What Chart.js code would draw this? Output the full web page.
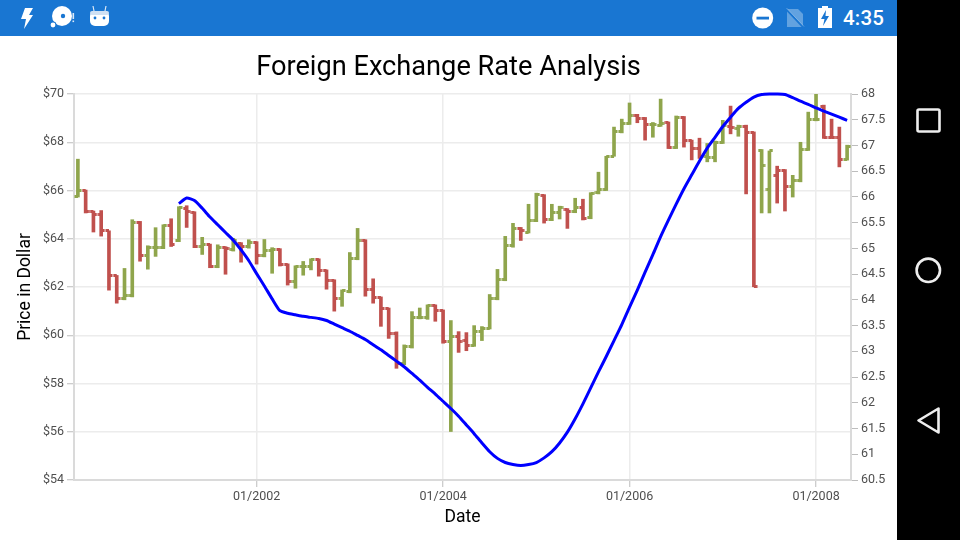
<!DOCTYPE html>
<html>
<head>
<meta charset="utf-8">
<title>Foreign Exchange Rate Analysis</title>
<script src="https://cdn.jsdelivr.net/npm/chart.js@4"></script>
<style>
  html, body { margin: 0; padding: 0; width: 960px; height: 540px; overflow: hidden; background: #000; font-family: Roboto, sans-serif; }
  #status { position: absolute; left: 0; top: 0; width: 897px; height: 36px; background: #1976D2; }
  #clock { position: absolute; left: 843px; top: 6px; color: #fff; font-size: 20.5px; font-weight: 500; line-height: 24px; letter-spacing: 0.2px; }
  #page { position: absolute; left: 0; top: 36px; width: 897px; height: 504px; background: #fff; }
  svg { position: absolute; left: 0; top: 0; }
</style>
</head>
<body>
<div id="status">
  <svg width="897" height="36">
    <polygon points="25,8 33,8 29,15 33,15 24,29 26,19 21,19" fill="#fff"/>
    <circle cx="62" cy="16" r="10" fill="#fff"/><circle cx="63" cy="16" r="2.2" fill="#1976D2"/>
    <circle cx="53" cy="25" r="3.4" fill="#1976D2"/><circle cx="53" cy="25" r="2.4" fill="#fff"/>
    <rect x="72.5" y="13" width="1.6" height="6" fill="#dce9f7"/><rect x="72.5" y="20.5" width="1.6" height="1.6" fill="#dce9f7"/>
    <rect x="90" y="11" width="19" height="15" rx="5" fill="#fff"/>
    <path d="M94 11 L93 6 M105 11 L106 6" stroke="#dce9f7" stroke-width="1.2"/>
    <rect x="90" y="11" width="19" height="4" rx="2" fill="#cfe0f3"/>
    <circle cx="95" cy="18" r="1.4" fill="#1976D2"/><circle cx="104" cy="18" r="1.4" fill="#1976D2"/>
    <circle cx="762.7" cy="18" r="10.5" fill="#fff"/><rect x="756.5" y="16.7" width="12.5" height="2.8" fill="#1976D2"/>
    <path d="M787 9 H798 L803 14 V27 H787 Z" fill="#fff" opacity="0.32"/>
    <path d="M786 9 L804 28" stroke="#1976D2" stroke-width="2"/>
    <path d="M786.5 8 L804 26.5" stroke="#fff" stroke-width="1" opacity="0.32"/>
    <path d="M822 8 V6 H828 V8 H832 V28 H818 V8 Z" fill="#fff"/>
    <polygon points="826,10 821,19 824.5,19 823,26 829,16 825.5,16" fill="#1976D2"/>
  </svg>
  <div id="clock">4:35</div>
</div>
<div id="page"><canvas id="myChart" width="897" height="504"></canvas></div>
<svg width="960" height="540" style="pointer-events:none">
  <rect x="917.5" y="109.5" width="22" height="22" rx="1.5" fill="none" stroke="#eee" stroke-width="2.6"/>
  <circle cx="928.3" cy="270.3" r="11.7" fill="none" stroke="#eee" stroke-width="2.6"/>
  <polygon points="918.5,420.5 938.5,408.5 938.5,432.5" fill="none" stroke="#eee" stroke-width="2.6" stroke-linejoin="round"/>
</svg>
<script>
var categories = [
  "02/2000","03/2000","04/2000","05/2000","06/2000","07/2000","08/2000","09/2000","10/2000","11/2000","12/2000",
  "01/2001","02/2001","03/2001","04/2001","05/2001","06/2001","07/2001","08/2001","09/2001","10/2001","11/2001","12/2001",
  "01/2002","02/2002","03/2002","04/2002","05/2002","06/2002","07/2002","08/2002","09/2002","10/2002","11/2002","12/2002",
  "01/2003","02/2003","03/2003","04/2003","05/2003","06/2003","07/2003","08/2003","09/2003","10/2003","11/2003","12/2003",
  "01/2004","02/2004","03/2004","04/2004","05/2004","06/2004","07/2004","08/2004","09/2004","10/2004","11/2004","12/2004",
  "01/2005","02/2005","03/2005","04/2005","05/2005","06/2005","07/2005","08/2005","09/2005","10/2005","11/2005","12/2005",
  "01/2006","02/2006","03/2006","04/2006","05/2006","06/2006","07/2006","08/2006","09/2006","10/2006","11/2006","12/2006",
  "01/2007","02/2007","03/2007","04/2007","05/2007","06/2007","07/2007","08/2007","09/2007","10/2007","11/2007","12/2007",
  "01/2008","02/2008","03/2008","04/2008","05/2008"
];
var xTickLabels = ["01/2002", "01/2004", "01/2006", "01/2008"];

var highValues = [
  67.30,66.02,65.15,65.17,64.33,62.48,62.77,64.79,64.72,63.71,64.46,64.58,64.83,65.33,65.37,65.12,64.06,63.78,63.75,63.67,
  64.02,63.84,63.96,63.88,63.97,63.63,63.59,62.96,62.88,63.06,63.17,63.17,62.71,62.30,61.88,63.43,64.43,63.96,62.34,61.59,
  61.13,60.14,59.60,60.98,61.13,61.26,61.26,61.05,60.61,60.15,60.11,60.40,60.36,61.69,62.73,64.10,64.64,64.47,65.43,65.89,
  65.83,65.43,65.35,65.25,65.68,65.64,65.91,66.76,67.42,68.63,68.96,69.63,69.16,69.03,68.82,69.79,68.84,69.09,69.07,68.09,
  68.17,67.95,68.05,68.91,69.50,68.71,68.71,68.43,67.70,67.64,67.01,66.87,66.63,68.00,69.25,70.00,69.54,68.96,68.63,67.88
];
var lowValues = [
  65.73,65.07,64.28,64.11,61.87,61.33,61.47,61.59,63.07,62.74,63.27,63.59,63.68,63.88,64.47,63.63,63.35,62.80,62.80,62.53,
  63.49,63.03,63.61,62.95,63.25,62.57,62.87,62.08,61.95,62.49,62.71,62.45,61.91,61.00,61.20,61.76,63.13,61.62,61.33,60.37,
  59.87,58.63,58.78,59.47,60.68,60.66,60.58,59.67,56.01,59.29,59.36,59.54,59.78,60.26,61.47,62.26,63.65,63.93,64.24,64.71,
  64.65,64.75,64.82,64.43,65.08,64.78,64.83,65.86,66.00,67.42,68.39,68.74,68.81,68.09,68.21,68.66,67.74,67.74,67.80,67.27,
  67.33,67.19,67.19,67.95,68.35,68.25,65.86,62.01,65.07,65.07,65.48,65.15,65.73,66.36,67.66,68.89,68.16,68.16,66.98,67.26
];
var openValues = [
  65.77,66.00,65.11,65.00,64.33,62.46,61.51,61.63,64.67,63.29,63.63,63.63,64.54,63.92,65.25,65.09,63.67,63.75,62.84,63.63,
  63.54,63.79,63.67,63.84,63.29,63.52,63.56,62.92,62.21,62.84,62.84,63.14,62.69,62.26,61.52,61.81,63.17,63.92,61.88,61.55,
  61.09,60.09,58.81,59.53,60.72,60.72,61.22,61.02,59.75,59.94,59.78,59.58,60.14,60.30,61.51,62.31,63.72,64.42,64.28,64.74,
  65.79,64.79,65.10,65.21,65.15,65.29,64.87,65.90,66.04,67.42,68.43,68.78,69.09,68.99,68.73,68.70,68.81,67.78,69.04,68.09,
  67.76,67.41,67.38,68.00,68.66,68.57,68.67,68.41,67.66,66.04,66.63,66.81,66.16,66.41,67.70,68.93,69.49,68.20,68.20,67.28
];
var closeValues = [
  66.00,65.11,65.00,64.35,62.46,61.52,61.63,64.67,63.29,63.63,63.63,64.54,63.75,65.29,65.11,63.67,63.77,62.84,63.63,63.59,
  63.92,63.67,63.84,63.29,63.52,63.56,62.92,62.21,62.84,62.84,63.14,62.69,62.26,61.52,61.85,63.17,63.92,61.88,61.55,61.09,
  60.09,58.81,59.55,60.72,60.72,61.22,61.02,59.75,59.94,59.75,59.58,60.14,60.30,61.51,62.31,63.72,64.42,64.35,64.74,65.83,
  64.79,65.10,65.28,65.15,65.29,64.85,65.87,66.05,67.42,68.43,68.78,69.09,68.99,68.73,68.74,68.78,67.78,69.03,68.09,67.76,
  67.41,67.38,68.00,68.71,68.61,68.67,68.41,62.01,67.04,67.64,66.81,66.16,66.43,67.70,68.95,68.95,68.20,68.20,67.28,67.84
];
var directions = [
  "up","down","down","down","down","down","up","up","down","up","up","up","down","up","down","down","up","down","up","down",
  "up","down","up","down","up","up","down","down","up","up","up","down","down","down","up","up","up","down","down","down",
  "down","down","up","up","up","up","down","down","up","down","down","up","up","up","up","up","up","down","up","up",
  "down","up","up","down","up","down","up","up","up","up","up","up","down","down","up","up","down","up","down","down",
  "down","up","up","up","down","up","down","down","up","up","down","down","up","up","up","up","down","down","down","up"
];
var trendValues = [
  null,null,null,null,null,null,null,null,null,null,null,null,null,
  65.87,65.98,65.93,65.78,65.61,65.46,65.31,65.16,64.97,64.76,64.51,64.27,64.02,63.79,63.74,63.71,63.68,63.66,63.64,63.60,
  63.53,63.46,63.39,63.31,63.23,63.13,63.03,62.92,62.81,62.70,62.57,62.44,62.30,62.17,62.03,61.89,61.74,61.57,61.40,61.22,
  61.05,60.92,60.84,60.80,60.78,60.80,60.84,60.93,61.05,61.22,61.43,61.69,61.98,62.29,62.60,62.90,63.21,63.52,63.86,64.19,
  64.54,64.88,65.23,65.55,65.86,66.16,66.43,66.70,66.95,67.16,67.37,67.55,67.72,67.84,67.94,67.99,68.00,68.00,67.99,67.93,
  67.86,67.80,67.73,67.67,67.61,67.55,67.49
];

var UP_COLOR = "#8FA54C";
var DOWN_COLOR = "#C0504D";

function colorOf(dir) {
  return dir == "up" ? UP_COLOR : DOWN_COLOR;
}

// tick mark image, centred on the point so only one half of it is painted
function makeTick(color, side) {
  var c = document.createElement("canvas");
  c.width = 8;
  c.height = 3;
  var g = c.getContext("2d");
  g.fillStyle = color;
  g.fillRect(side == "left" ? 0.5 : 4, 0, 3.5, 3);
  return c;
}

var ticksCache = {
  left: { up: makeTick(UP_COLOR, "left"), down: makeTick(DOWN_COLOR, "left") },
  right: { up: makeTick(UP_COLOR, "right"), down: makeTick(DOWN_COLOR, "right") }
};

var ctx = document.getElementById("myChart").getContext("2d");
var myChart = new Chart(ctx, {
  type: "bar",
  data: {
    labels: categories,
    datasets: [
      {
        type: "line",
        label: "Trend",
        data: trendValues,
        yAxisID: "y1",
        borderColor: "#0000FF",
        borderWidth: 3,
        pointRadius: 0,
        tension: 0.2,
        clip: false,
        order: 1
      },
      {
        type: "line",
        label: "Open",
        data: openValues,
        yAxisID: "y",
        showLine: false,
        pointRadius: 1,
        pointStyle: directions.map(function (d) { return ticksCache.left[d]; }),
        order: 2
      },
      {
        type: "line",
        label: "Close",
        data: closeValues,
        yAxisID: "y",
        showLine: false,
        pointRadius: 1,
        pointStyle: directions.map(function (d) { return ticksCache.right[d]; }),
        order: 2
      },
      {
        label: "Price",
        data: lowValues.map(function (low, i) { return [low, highValues[i]]; }),
        yAxisID: "y",
        backgroundColor: directions.map(colorOf),
        barThickness: 3,
        order: 3
      }
    ]
  },
  options: {
    responsive: false,
    animation: false,
    layout: { padding: 0 },
    plugins: {
      legend: { display: false },
      tooltip: { enabled: false },
      title: {
        display: true,
        text: "Foreign Exchange Rate Analysis",
        color: "#000",
        font: { family: "Roboto", size: 27.2, weight: "normal" },
        padding: { top: 16, bottom: 9.4 }
      }
    },
    scales: {
      x: {
        offset: true,
        afterBuildTicks: function (scale) {
          scale.ticks = xTickLabels.map(function (t) { return { value: categories.indexOf(t) }; });
        },
        afterFit: function (scale) { scale.height = 60; },
        grid: { offset: false, color: "#ECECEC", lineWidth: 1.5, tickColor: "#BDBDBD", tickWidth: 1, tickLength: 7 },
        border: { color: "#DADADA", width: 2 },
        ticks: {
          autoSkip: false,
          maxRotation: 0,
          padding: 2,
          color: "#4F4F4F",
          font: { family: "Roboto", size: 12.5 }
        },
        title: {
          display: true,
          text: "Date",
          color: "#000",
          font: { family: "Roboto", size: 17.5 },
          padding: { top: 0, bottom: 11.5 }
        }
      },
      y: {
        position: "left",
        min: 54,
        max: 70,
        afterFit: function (scale) { scale.width = 74; },
        grid: { color: "#ECECEC", lineWidth: 1.5, tickColor: "#BDBDBD", tickWidth: 1, tickLength: 7 },
        border: { color: "#DADADA", width: 2 },
        ticks: {
          stepSize: 2,
          padding: 3,
          color: "#4F4F4F",
          font: { family: "Roboto", size: 12.5 },
          callback: function (v) { return "$" + v; }
        },
        title: {
          display: true,
          text: "Price in Dollar",
          color: "#000",
          font: { family: "Roboto", size: 17.5 },
          padding: { top: 15.5, bottom: 0 }
        }
      },
      y1: {
        position: "right",
        min: 60.5,
        max: 68,
        afterFit: function (scale) { scale.width = 46; },
        grid: { drawOnChartArea: false, tickColor: "#BDBDBD", tickWidth: 1, tickLength: 7 },
        border: { color: "#DADADA", width: 2 },
        ticks: {
          stepSize: 0.5,
          padding: 3,
          color: "#4F4F4F",
          font: { family: "Roboto", size: 12.5 },
          callback: function (v) { return String(v); }
        }
      }
    }
  }
});
</script>
</body>
</html>
